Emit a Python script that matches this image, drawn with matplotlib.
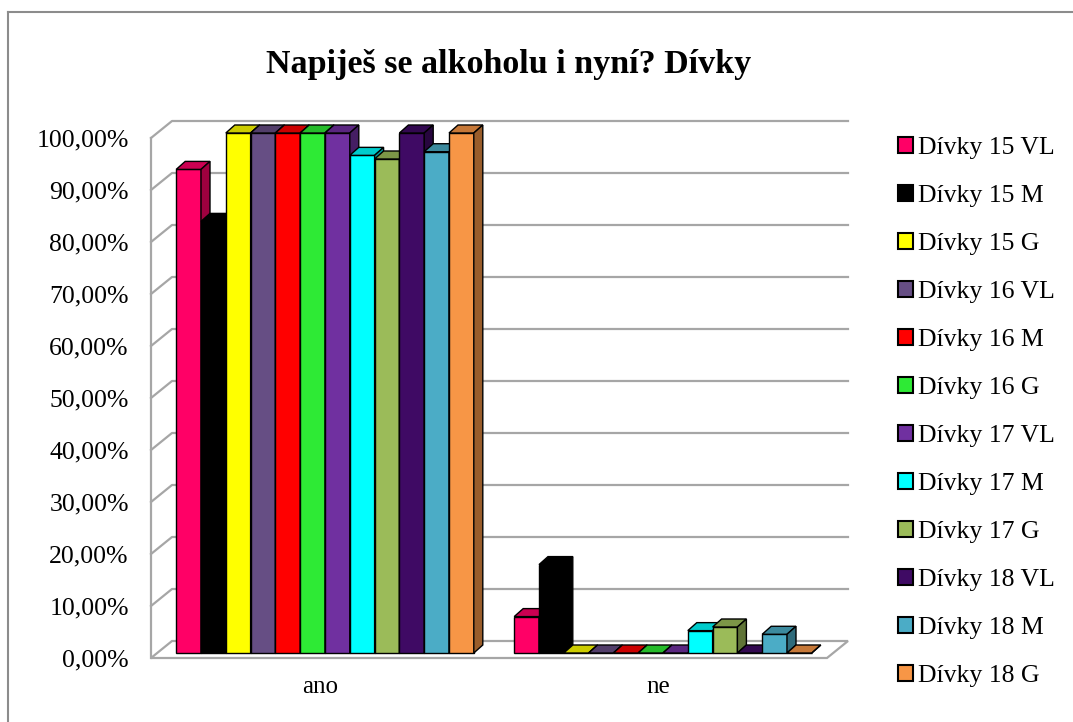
import matplotlib
matplotlib.use('Agg')
import matplotlib.pyplot as plt
from matplotlib.patches import Polygon, Patch
from matplotlib.lines import Line2D
import matplotlib.colors as mcolors
import numpy as np

# ---------------- data ----------------
title = 'Napiješ se alkoholu i nyní? Dívky'
categories = ['ano', 'ne']
series = ['Dívky 15 VL', 'Dívky 15 M', 'Dívky 15 G',
          'Dívky 16 VL', 'Dívky 16 M', 'Dívky 16 G',
          'Dívky 17 VL', 'Dívky 17 M', 'Dívky 17 G',
          'Dívky 18 VL', 'Dívky 18 M', 'Dívky 18 G']
ano_values = [93.0, 83.0, 100.0, 100.0, 100.0, 100.0, 100.0, 95.7, 95.0, 100.0, 96.4, 100.0]
ne_values = [7.0, 17.0, 0.0, 0.0, 0.0, 0.0, 0.0, 4.3, 5.0, 0.0, 3.6, 0.0]
ytick_values = list(range(0, 101, 10))
ytick_labels = [f'{v},00%' for v in ytick_values]
colors = ['#FF0066', '#000000', '#FFFF00', '#664E84', '#FF0000', '#2EEA35',
          '#7030A0', '#00FFFF', '#9BBB59', '#3F0A64', '#4BACC6', '#F79646']

# ---------------- style ----------------
plt.rcParams['font.family'] = ['Liberation Serif', 'DejaVu Serif']

W, H = 1073, 722
fig = plt.figure(figsize=(W / 100, H / 100), dpi=100)
ax = fig.add_axes([151 / W, 1 - 658 / H, 676 / W, 520 / H])
ax.set_xlim(-0.5, 1.5)
ax.set_ylim(0, 100)
for s in ax.spines.values():
    s.set_visible(False)

# pixel -> data conversions
sx = 2 / 676
sy = 100 / 520
wall_dx, wall_dy = 21 * sx, 17 * sy
bp_dx, bp_dy = 5 * sx, 5 * sy
bd_dx, bd_dy = 9 * sx, 8 * sy
bw = 24.8 * sx
grid_c = '#A6A6A6'

# floor
floor = Polygon([(-0.5, 0), (1.5, 0), (1.5 + wall_dx, wall_dy), (-0.5 + wall_dx, wall_dy)],
                closed=True, facecolor='white', edgecolor=grid_c, lw=1.6, zorder=1, clip_on=False)
ax.add_patch(floor)
# gridlines on back wall + side wall
for t in ytick_values[1:]:
    ax.plot([-0.5, -0.5 + wall_dx, 1.5 + wall_dx], [t, t + wall_dy, t + wall_dy],
            color=grid_c, lw=1.6, zorder=1, clip_on=False)
ax.plot([-0.5, -0.5], [0, 100], color=grid_c, lw=1.6, zorder=1, clip_on=False)


def shade(c, f):
    r, g, b = mcolors.to_rgb(c)
    return (r * f, g * f, b * f)


values = [ano_values, ne_values]
n = len(series)
offsets = (np.arange(n) - (n - 1) / 2) * bw + bp_dx
z = 3.0
for ci in range(len(categories)):
    for j in range(n):
        x = ci + offsets[j]
        h = values[ci][j]
        x0, x1 = x - bw / 2, x + bw / 2
        y = bp_dy + h
        ax.bar(x, h, width=bw, bottom=bp_dy, color=colors[j], edgecolor='black',
               lw=1.0, zorder=z, clip_on=False)
        top = Polygon([(x0, y), (x1, y), (x1 + bd_dx, y + bd_dy), (x0 + bd_dx, y + bd_dy)],
                      closed=True, facecolor=shade(colors[j], 0.8), edgecolor='black',
                      lw=1.0, zorder=z + 0.001, clip_on=False)
        side = Polygon([(x1, bp_dy), (x1 + bd_dx, bp_dy + bd_dy), (x1 + bd_dx, y + bd_dy), (x1, y)],
                       closed=True, facecolor=shade(colors[j], 0.62), edgecolor='black',
                       lw=1.0, zorder=z + 0.002, clip_on=False)
        ax.add_patch(top)
        ax.add_patch(side)
        z += 0.01

ax.set_yticks(ytick_values, ytick_labels)
ax.tick_params(axis='y', length=0, pad=16, labelsize=18.5)
ax.set_xticks(range(len(categories)), categories)
ax.tick_params(axis='x', length=0, pad=13, labelsize=18)

fig.text(509 / W, 1 - 73 / H, title, ha='center', va='baseline',
         fontsize=24.5, fontweight='bold')

handles = [Patch(facecolor=c, edgecolor='black', lw=1.5) for c in colors]
fig.legend(handles, series, loc='upper left', bbox_to_anchor=(898 / W, 1 - 137 / H),
           frameon=False, fontsize=18.5, borderpad=0, borderaxespad=0,
           handlelength=0.58, handleheight=0.58, handletextpad=0.2, labelspacing=1.01)

# figure border (left and top edges visible)
fig.add_artist(Line2D([8 / W, 8 / W], [0, 1 - 12 / H], transform=fig.transFigure,
                      color='#8C8C8C', lw=1.5))
fig.add_artist(Line2D([8 / W, 1], [1 - 12 / H, 1 - 12 / H], transform=fig.transFigure,
                      color='#8C8C8C', lw=1.5))

fig.savefig('out.png', dpi=100)
